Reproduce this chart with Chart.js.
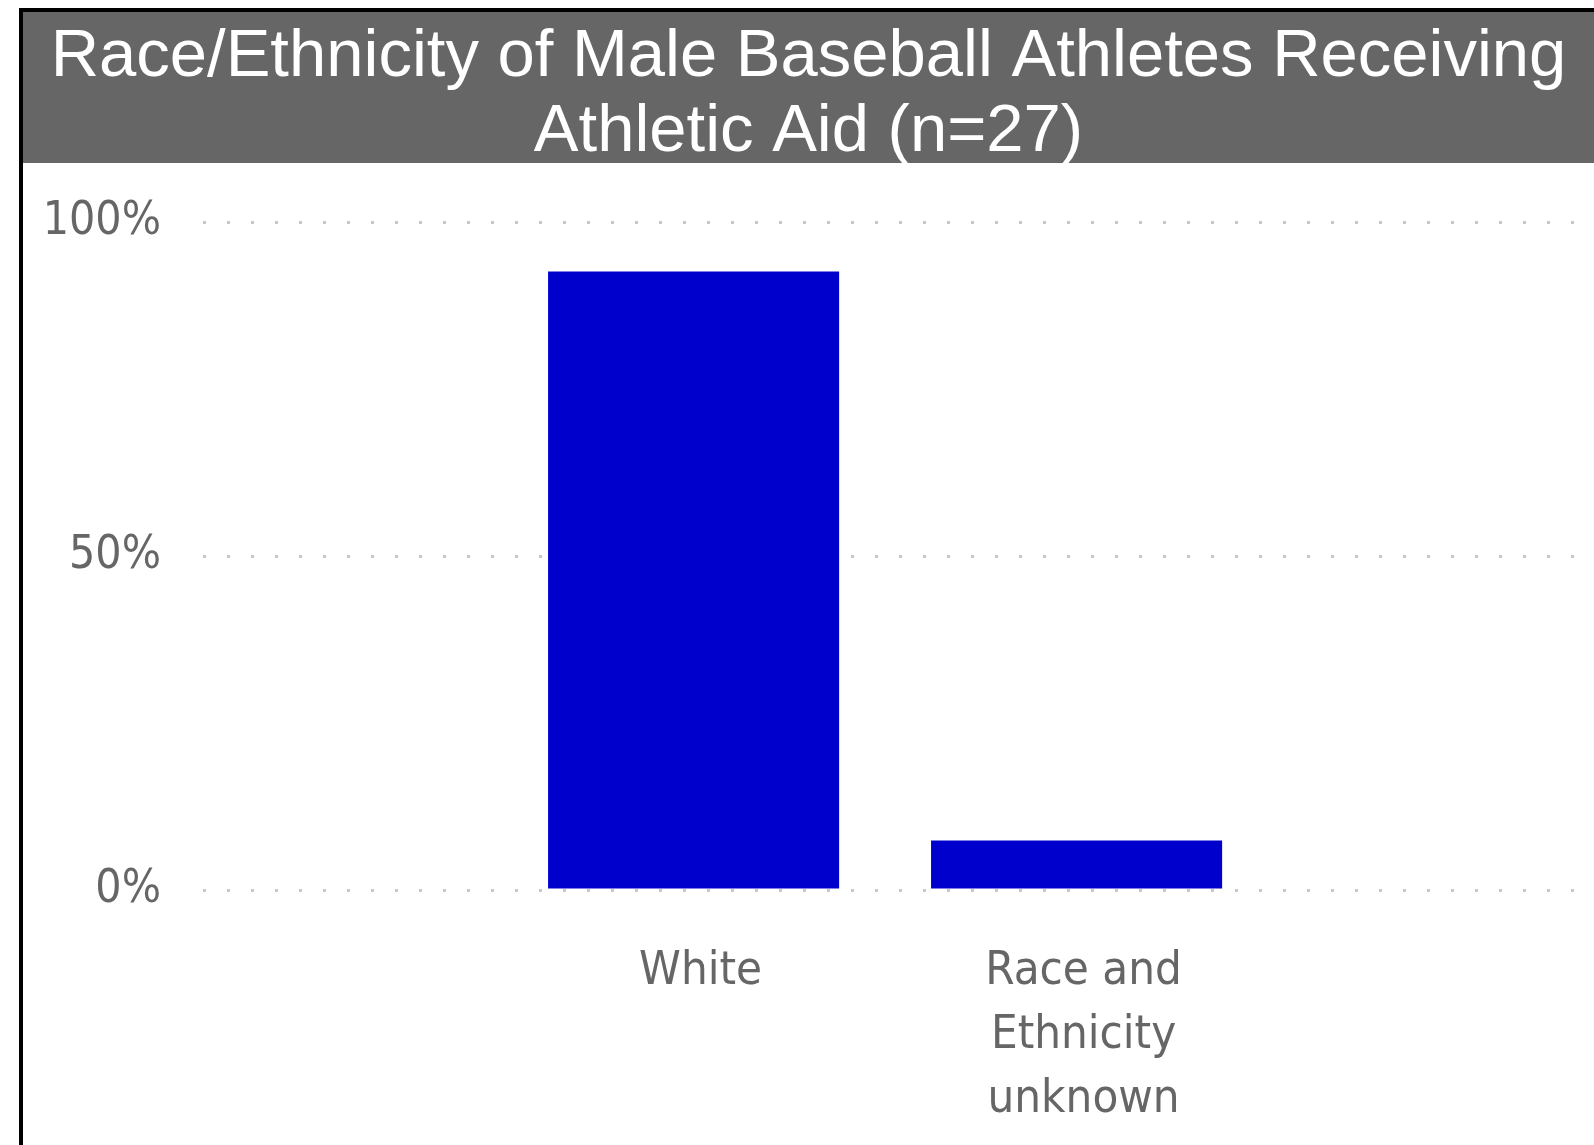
<!DOCTYPE html>
<html><head><meta charset="utf-8">
<script src="https://cdn.jsdelivr.net/npm/chart.js@4.4.0/dist/chart.umd.min.js"></script>
<style>html,body{margin:0;padding:0;background:#fff;overflow:hidden}
#wrap{position:relative;width:1594px;height:1145px}</style>
</head><body><div id="wrap"><canvas id="c" width="1594" height="1145"></canvas></div>
<script>
const titleLines = ['Race/Ethnicity of Male Baseball Athletes Receiving', 'Athletic Aid (n=27)'];
const categories = ['White', 'Race and Ethnicity unknown'];
const categoryTickLabels = [['White'], ['Race and', 'Ethnicity', 'unknown']];
const percentValues = [92.6, 7.4];
const yTickValues = [0, 50, 100];

const labelFont = "'DejaVu Sans Condensed', 'DejaVu Sans', sans-serif";

const frame = {
  id: 'frame',
  beforeDraw(chart) {
    const ctx = chart.ctx;
    ctx.save();
    ctx.fillStyle = '#ffffff';
    ctx.fillRect(0, 0, chart.width, chart.height);
    ctx.fillStyle = '#000000';
    ctx.fillRect(19, 8, chart.width - 19, 4);
    ctx.fillRect(19, 8, 4, chart.height - 8);
    ctx.fillStyle = '#666666';
    ctx.fillRect(23, 12, chart.width - 23, 151);
    ctx.restore();
  }
};

new Chart(document.getElementById('c'), {
  type: 'bar',
  data: {
    datasets: [{
      label: 'Percent',
      data: percentValues.map((v, i) => ({ x: i, y: v })),
      backgroundColor: '#0000CC',
      barPercentage: 0.76,
      categoryPercentage: 1
    }]
  },
  options: {
    responsive: false,
    animation: false,
    devicePixelRatio: 1,
    layout: { padding: { left: 23, right: 0, top: 0, bottom: 0 } },
    plugins: {
      legend: { display: false },
      tooltip: { enabled: false },
      title: {
        display: true,
        text: titleLines,
        color: '#ffffff',
        font: { family: "'Liberation Sans', Arial, sans-serif", size: 67, weight: 'normal', lineHeight: 75 / 67 },
        padding: { top: 20, bottom: 52 }
      }
    },
    scales: {
      x: {
        type: 'linear',
        offset: false,
        min: -1.281,
        max: 2.351,
        afterBuildTicks(s) { s.ticks = categories.map((c, i) => ({ value: i })); },
        afterFit(s) { s.height = 255; },
        ticks: {
          callback: (v, i) => categoryTickLabels[i],
          font: { family: labelFont, size: 47, lineHeight: 64 / 47 },
          color: '#666666',
          padding: 42,
          labelOffset: 7,
          maxRotation: 0,
          autoSkip: false
        },
        grid: { display: false, offset: false },
        border: { display: false }
      },
      y: {
        min: 0,
        max: 100,
        afterBuildTicks(s) { s.ticks = yTickValues.map(v => ({ value: v })); },
        afterFit(s) { s.width = 180; },
        ticks: {
          callback: v => v + '%',
          font: { family: labelFont, size: 46 },
          color: '#666666',
          padding: 42
        },
        grid: { color: '#c8c8c8', lineWidth: 3, drawTicks: false, borderDash: [3, 21] },
        border: { display: false, dash: [3, 21] }
      }
    }
  },
  plugins: [frame]
});
</script></body></html>
